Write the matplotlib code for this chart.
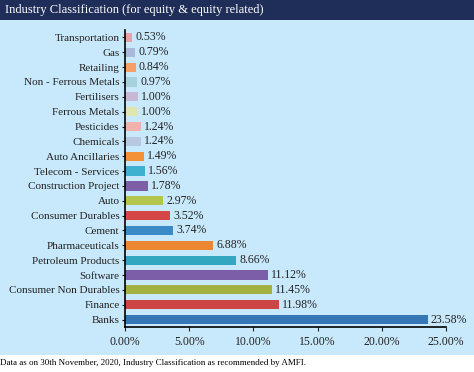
import matplotlib
matplotlib.use("Agg")
import matplotlib.pyplot as plt
from matplotlib.ticker import FuncFormatter
from matplotlib.patches import Rectangle

# industries, top to bottom as in the chart
industries = ["Transportation", "Gas", "Retailing", "Non - Ferrous Metals", "Fertilisers",
              "Ferrous Metals", "Pesticides", "Chemicals", "Auto Ancillaries",
              "Telecom - Services", "Construction Project", "Auto", "Consumer Durables",
              "Cement", "Pharmaceuticals", "Petroleum Products", "Software",
              "Consumer Non Durables", "Finance", "Banks"]
weights = [0.53, 0.79, 0.84, 0.97, 1.00, 1.00, 1.24, 1.24, 1.49, 1.56, 1.78,
           2.97, 3.52, 3.74, 6.88, 8.66, 11.12, 11.45, 11.98, 23.58]
colors = ["#e8a2a6", "#a9b9dc", "#f6a068", "#a6d2de", "#c8b8d6",
          "#dfe6b0", "#f1b2ae", "#b7c8e0", "#f39136", "#3db1cf", "#7c5fa6",
          "#b4c54e", "#d44746", "#3a8ac6", "#eb8633", "#33a7bf", "#7b5ea7",
          "#a2b03f", "#cd4545", "#3576b4"]
xticks = [0, 5, 10, 15, 20, 25]

title = "Industry Classification (for equity & equity related)"
footnote = "Data as on 30th November, 2020, Industry Classification as recommended by AMFI."

plt.rcParams['font.family'] = ['Liberation Serif', 'DejaVu Serif']

fig = plt.figure(figsize=(4.74, 3.72), dpi=100)

# background: title band and light blue panel
bg = fig.add_axes([0, 0, 1, 1], zorder=-1)
bg.axis("off")
bg.set_xlim(0, 474)
bg.set_ylim(372, 0)
bg.add_patch(Rectangle((0, 0), 474, 20, facecolor="#1f2e58", edgecolor="none"))
bg.add_patch(Rectangle((0, 20), 474, 335, facecolor="#c8e9fb", edgecolor="none"))
bg.text(5, 10, title, color="white", fontsize=9, va="center", ha="left")
bg.text(0, 363, footnote, color="black", fontsize=6.5, va="center", ha="left")

ax = fig.add_axes([125/474, 1 - 327/372, (446 - 125)/474, 297/372])
ax.set_facecolor("none")
n = len(industries)
pos = list(range(n - 1, -1, -1))
ax.barh(pos, weights, height=0.62, color=colors)
for p, w in zip(pos, weights):
    ax.text(w + 0.25, p, "%.2f%%" % w, va="center", ha="left", fontsize=8.5, color="#222222")

ax.set_ylim(-0.5, n - 0.5)
ax.set_xlim(0, 25)
ax.set_yticks(pos)
ax.set_yticklabels(industries, fontsize=8, color="#222222")
ax.set_xticks(xticks)
ax.xaxis.set_major_formatter(FuncFormatter(lambda v, _: "%.2f%%" % v))
ax.tick_params(axis="x", labelsize=8.5, length=3, width=0.8, colors="#222222")
ax.tick_params(axis="y", length=2, width=0.8, pad=2)
ax.spines["top"].set_visible(False)
ax.spines["right"].set_visible(False)
ax.spines["left"].set_linewidth(1.2)
ax.spines["bottom"].set_linewidth(1.2)

fig.savefig("out.png", dpi=100)
